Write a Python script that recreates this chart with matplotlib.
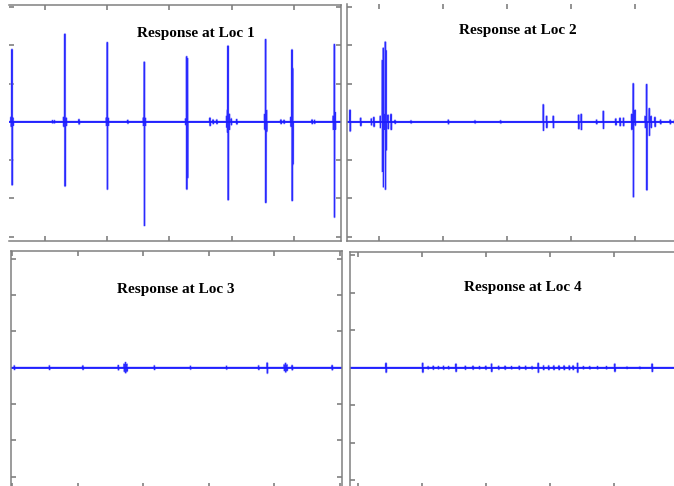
import matplotlib
matplotlib.use("Agg")
import matplotlib.pyplot as plt

# Spike events: time, positive peak, negative peak
loc1_t = [45.5, 47, 48.5, 112, 115, 130, 132, 134, 154.6, 198.5, 200, 201.5, 233,
          258, 259.5, 261, 326, 327.6, 329, 365, 370, 376, 392, 393, 394, 396, 399,
          408, 453, 454.5, 456, 479, 484, 495, 496.8, 498, 529, 533, 563, 564.8, 566]
loc1_up = [0.12, 1.89, 0.10, 0.03, 0.03, 0.12, 2.29, 0.10, 0.06, 0.10, 2.07, 0.10, 0.04,
           0.10, 1.56, 0.10, 0.08, 1.70, 1.65, 0.10, 0.05, 0.05, 0.15, 0.30, 1.98, 0.20, 0.08,
           0.06, 0.20, 2.15, 0.30, 0.05, 0.04, 0.12, 1.88, 1.39, 0.05, 0.04, 0.15, 2.02, 0.25]
loc1_dn = [-0.12, -1.65, -0.10, -0.03, -0.03, -0.12, -1.68, -0.10, -0.06, -0.10, -1.76, -0.10, -0.04,
           -0.10, -2.71, -0.10, -0.08, -1.76, -1.46, -0.10, -0.05, -0.05, -0.15, -0.27, -2.04, -0.20, -0.08,
           -0.06, -0.20, -2.11, -0.25, -0.05, -0.04, -0.12, -2.06, -1.11, -0.05, -0.04, -0.20, -2.49, -0.20]

loc2_t = [54.7, 71.4, 88, 92, 102, 105.2, 106.7, 108, 109.8, 110.9, 114, 118.8, 125, 150,
          208.3, 250, 290, 356.7, 362, 372.3, 412, 416, 440, 450.5, 470, 476.6, 482,
          495, 497.3, 500, 516, 518.3, 522.3, 525, 531.2, 540, 555, 562]
loc2_up = [0.31, 0.10, 0.08, 0.12, 0.15, 1.61, 1.93, 0.20, 2.09, 1.87, 0.18, 0.20, 0.04, 0.03,
           0.05, 0.03, 0.03, 0.45, 0.15, 0.15, 0.18, 0.20, 0.05, 0.28, 0.08, 0.10, 0.10,
           0.20, 1.00, 0.31, 0.15, 0.98, 0.35, 0.15, 0.12, 0.05, 0.05, 0.05]
loc2_dn = [-0.24, -0.10, -0.08, -0.12, -0.15, -1.30, -1.70, -0.20, -1.76, -0.74, -0.18, -0.20, -0.04, -0.03,
           -0.05, -0.03, -0.03, -0.22, -0.15, -0.15, -0.18, -0.20, -0.05, -0.17, -0.08, -0.10, -0.10,
           -0.20, -1.96, -0.09, -0.15, -1.78, -0.35, -0.15, -0.12, -0.05, -0.05, -0.05]

loc3_t = [3.5, 57, 108, 162, 171, 173, 175, 217, 272, 327, 376, 389, 415, 417, 419, 427, 488]
loc3_up = [0.05, 0.05, 0.05, 0.06, 0.10, 0.14, 0.10, 0.05, 0.04, 0.04, 0.05, 0.13, 0.08, 0.12, 0.08, 0.06, 0.06]
loc3_dn = [-0.05, -0.05, -0.05, -0.06, -0.10, -0.14, -0.10, -0.05, -0.04, -0.04, -0.05, -0.15, -0.08, -0.12, -0.08, -0.06, -0.06]

loc4_t = [144.4, 201.6, 210, 218, 226, 234, 242, 253.4, 268, 280, 290, 300, 309,
          320, 330, 340, 352, 362, 372, 381.6, 390, 398, 406, 414, 422, 430, 436, 443,
          452, 462, 474, 488, 501, 520, 540, 559.2]
loc4_up = [0.12, 0.12, 0.03, 0.04, 0.03, 0.04, 0.03, 0.10, 0.04, 0.04, 0.03, 0.04, 0.10,
           0.04, 0.04, 0.03, 0.04, 0.04, 0.03, 0.12, 0.05, 0.05, 0.05, 0.05, 0.05, 0.05, 0.05, 0.12,
           0.03, 0.03, 0.03, 0.03, 0.10, 0.02, 0.02, 0.10]
loc4_dn = [-v for v in loc4_up]

titles = ["Response at Loc 1", "Response at Loc 2", "Response at Loc 3", "Response at Loc 4"]


def trace(xlim, t, up, dn):
    ev = sorted(zip(t, up, dn))
    xs = [xlim[0]]
    ys = [0.0]
    for ti, u, d in ev:
        xs += [ti - 0.3, ti, ti + 0.3, ti + 0.6]
        ys += [0.0, u, d, 0.0]
    xs.append(xlim[1])
    ys.append(0.0)
    return xs, ys


W, H = 674, 486
fig = plt.figure(figsize=(W / 100, H / 100), dpi=100)


def box(left, top, right, bottom):
    return [left / W, 1 - bottom / H, (right - left) / W, (bottom - top) / H]


# (axes box in pixels, xlim, ylim, xticks, signal, title centre)
panels = [
    (box(9, 5, 341, 240.5), (42.2, 575.5), (-3.1, 3.05), [100, 200, 300, 400, 500],
     (loc1_t, loc1_up, loc1_dn), (196, 33)),
    (box(346.5, 4.5, 678.5, 240.5), (49.2, 568), (-3.1, 3.07), [100, 200, 300, 400, 500],
     (loc2_t, loc2_up, loc2_dn), (518, 30)),
    (box(10.5, 251, 341.7, 488), (-2.3, 502.6), (-3.31, 3.21), [0, 100, 200, 300, 400, 500],
     (loc3_t, loc3_up, loc3_dn), (176, 290)),
    (box(349.5, 252, 681.5, 488), (87.5, 605), (-3.2, 3.08), [100, 200, 300, 400, 500],
     (loc4_t, loc4_up, loc4_dn), (523, 287)),
]

for i, (rect, xl, yl, xt, sig, tpos) in enumerate(panels):
    ax = fig.add_axes(rect)
    xs, ys = trace(xl, *sig)
    ax.plot(xs, ys, color="#b4b4ff", linewidth=1.7)
    ax.plot(xs, ys, color="#2a2aff", linewidth=0.7)
    ax.axhline(0, color="#1a1aff", linewidth=1.2)
    ax.set_xlim(xl)
    ax.set_ylim(yl)
    ax.set_xticks(xt)
    ax.set_yticks([-3, -2, -1, 0, 1, 2, 3])
    ax.tick_params(direction="in", length=3.6, width=1.2, color="#808080",
                   top=True, right=True, labelbottom=False, labelleft=False)
    for s in ax.spines.values():
        s.set_color("#808080")
        s.set_linewidth(1.1)
    if i == 0:
        ax.spines["left"].set_visible(False)
    if i == 1:
        ax.spines["top"].set_visible(False)
    fig.text(tpos[0] / W, 1 - tpos[1] / H, titles[i], ha="center", va="center",
             family="Liberation Serif", fontweight="bold", fontsize=11)

fig.savefig("out.png", dpi=100)
